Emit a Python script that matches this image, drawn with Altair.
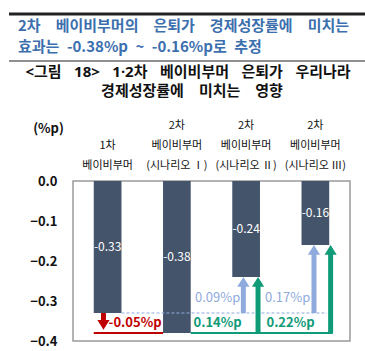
import altair as alt
import pandas as pd

FONT = "Noto Sans CJK KR"
EN = "\u2002"            # en space
EM = "\u2003"            # em space (mimics the justified spacing of the headlines)

# ---------------- data ----------------
categories = [
    "\n1차\n베이비부머",
    "2차\n베이비부머\n(시나리오 Ⅰ)",
    "2차\n베이비부머\n(시나리오 Ⅱ)",
    "2차\n베이비부머\n(시나리오 Ⅲ)",
]
values = [-0.33, -0.38, -0.24, -0.16]
value_labels = ["-0.33", "-0.38", "-0.24", "-0.16"]
y_ticks = [0.0, -0.1, -0.2, -0.3, -0.4]

extra_loss_label = "-0.05%p"           # 1차 -> 2차(시나리오 I)
gain_vs_first = ["0.09%p", "0.17%p"]   # 시나리오 II, III vs 1차
gain_vs_second = ["0.14%p", "0.22%p"]  # 시나리오 II, III vs 시나리오 I

title_lines = [EM.join(["2차", "베이비부머의", "은퇴가", "경제성장률에", "미치는"]),
               EN.join(["효과는", "-0.38%p", "~", "-0.16%p로", "추정"])]
subtitle_lines = [(EN + "\u2004").join(["<그림", "18>", "1·2차", "베이비부머", "은퇴가", "우리나라"]),
                  EM.join(["경제성장률에", "미치는", "영향"])]

BAR = "#44546a"
RED = "#c00000"
GREEN = "#0f9a78"
LBLUE = "#8faadc"
TBLUE = "#3c6fae"

first_v, second_v = values[0], values[1]

# ---------------- scales / encodings ----------------
xscale = alt.Scale(domain=categories, paddingInner=0.6, paddingOuter=0.3)
yscale = alt.Scale(domain=[-0.4, 0.0], nice=False, zero=False)

x_axis = alt.Axis(orient="top", title=None, domain=False, ticks=False, grid=False,
                  labelAngle=0, labelFont=FONT, labelFontSize=11, labelColor="#111",
                  labelLineHeight=20, labelPadding=62, labelBaseline="top",
                  labelExpr="split(datum.label, '\\n')")
y_axis = alt.Axis(title="(%p)", titleAngle=0, titleX=-25, titleY=-53,
                  titleAlign="center", titleBaseline="middle", titleFont=FONT,
                  titleFontSize=13, titleFontWeight="bold", titleColor="#111",
                  values=y_ticks, format=".1f", domain=False, ticks=False, grid=False,
                  labelFont=FONT, labelFontSize=13, labelFontWeight="bold",
                  labelColor="#111", labelPadding=16)


def X(field, bp=0.5):
    return alt.X(f"{field}:N", sort=categories, scale=xscale, axis=x_axis, bandPosition=bp)


def X2(field, bp):
    return alt.X2(f"{field}:N", bandPosition=bp)


def Y(field):
    return alt.Y(f"{field}:Q", scale=yscale, axis=y_axis)


bars_df = pd.DataFrame({"cat": categories, "value": values, "label": value_labels})

bars = alt.Chart(bars_df).mark_bar(color=BAR).encode(x=X("cat"), y=Y("value"))
bar_text = alt.Chart(bars_df).transform_calculate(mid="datum.value / 2").mark_text(
    color="white", font=FONT, fontSize=12, baseline="middle"
).encode(x=X("cat"), y=Y("mid"), text="label:N")

HEAD_UP = "M0,0L1,1.6L-1,1.6Z"
HEAD_DOWN = "M0,0L1,-1.6L-1,-1.6Z"


def arrow(cat, bp, y_from, y_to, color, up=True, xoff=0):
    df = pd.DataFrame({"cat": [cat], "y_from": [y_from], "y_to": [y_to]})
    base = alt.Chart(df)
    shaft = base.mark_rule(color=color, strokeWidth=5, y2Offset=8 if up else -8,
                           xOffset=xoff).encode(
        x=X("cat", bp), y=Y("y_from"), y2="y_to:Q")
    head = base.mark_point(shape=HEAD_UP if up else HEAD_DOWN, size=150, filled=True,
                           color=color, opacity=1, strokeWidth=0, xOffset=xoff).encode(
        x=X("cat", bp), y=Y("y_to"))
    return shaft + head


def hline(cat_a, bp_a, cat_b, bp_b, yv, color, width=2, dash=None, x2off=0):
    df = pd.DataFrame({"a": [cat_a], "b": [cat_b], "y": [yv]})
    kw = dict(color=color, strokeWidth=width, x2Offset=x2off)
    if dash:
        kw["strokeDash"] = dash
    return alt.Chart(df).mark_rule(**kw).encode(x=X("a", bp_a), x2=X2("b", bp_b), y=Y("y"))


def label(cat, bp, yv, text, color, weight="bold", dy=0, xoff=0):
    df = pd.DataFrame({"cat": [cat], "y": [yv], "t": [text]})
    return alt.Chart(df).mark_text(color=color, font=FONT, fontSize=13, fontWeight=weight,
                                   baseline="middle", align="center", dy=dy,
                                   xOffset=xoff).encode(
        x=X("cat", bp), y=Y("y"), text="t:N")


mid_low = (first_v + second_v) / 2

layers = [
    bars,
    bar_text,
    hline(categories[0], 1.0, categories[3], 0.92, first_v, LBLUE, 1, [3, 2]),
    hline(categories[0], 0.0, categories[1], 0.0, second_v, RED, 2),
    hline(categories[1], 1.0, categories[3], 1.0, second_v, GREEN, 2, x2off=3.6),
    arrow(categories[0], 0.35, first_v, -0.372, RED, up=False),
    arrow(categories[2], 0.40, first_v, values[2], LBLUE),
    arrow(categories[3], 0.45, first_v, values[3], LBLUE),
    arrow(categories[2], 0.93, second_v, values[2], GREEN),
    arrow(categories[3], 1.0, second_v, values[3], GREEN, xoff=1.4),
    label(categories[0], 1.0, mid_low, extra_loss_label, RED, xoff=13.6),
    label(categories[2], 0.0, first_v, gain_vs_first[0], LBLUE, "normal", -15, xoff=-14.7),
    label(categories[3], 0.0, first_v, gain_vs_first[1], LBLUE, "normal", -15, xoff=-13.9),
    label(categories[2], 0.0, mid_low, gain_vs_second[0], GREEN, xoff=-14.7),
    label(categories[3], 0.0, mid_low, gain_vs_second[1], GREEN, xoff=-11),
]

# ---------------- header decoration (outside plot area) ----------------
one = alt.Data(values=[{}])
top_rule = alt.Chart(one).mark_rule(color="#222", strokeWidth=3).encode(
    x=alt.value(-64), x2=alt.value(292), y=alt.value(-167))
mid_rule = alt.Chart(one).mark_rule(color="#222", strokeWidth=1.2).encode(
    x=alt.value(-64), x2=alt.value(292), y=alt.value(-120))
t1 = alt.Chart(one).mark_text(text=title_lines[0], font=FONT, fontSize=15, fontWeight="bold",
                              color=TBLUE, align="left", baseline="middle").encode(
    x=alt.value(-55), y=alt.value(-155))
t2 = alt.Chart(one).mark_text(text=title_lines[1], font=FONT, fontSize=15, fontWeight="bold",
                              color=TBLUE, align="left", baseline="middle").encode(
    x=alt.value(-55), y=alt.value(-134))
s1 = alt.Chart(one).mark_text(text=subtitle_lines[0], font="Noto Sans, " + FONT, fontSize=15,
                              fontWeight="bold", color="#111", align="center",
                              baseline="middle").encode(
    x=alt.value(115), y=alt.value(-109.5))
s2 = alt.Chart(one).mark_text(text=subtitle_lines[1], font=FONT, fontSize=15, fontWeight="bold",
                              color="#111", align="center", baseline="middle").encode(
    x=alt.value(119), y=alt.value(-90))

chart = alt.layer(*layers, top_rule, mid_rule, t1, t2, s1, s2).properties(
    width=277, height=160,
    padding={"left": 73, "top": 181, "right": 15, "bottom": 10},
    autosize=alt.AutoSizeParams(type="none"),
    background="white",
).configure_view(stroke="#9a9a9a", strokeWidth=1.5)

chart.save("out.html", embed_options={"renderer": "svg", "actions": False})
